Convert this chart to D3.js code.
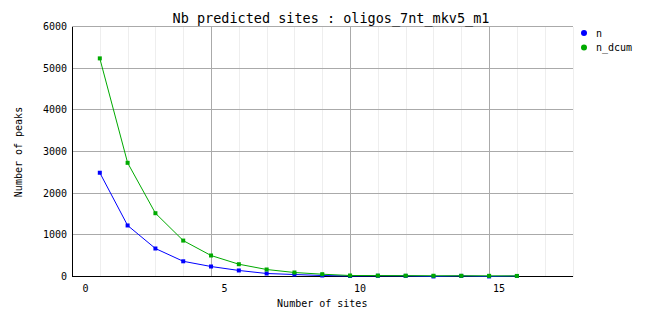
<!DOCTYPE html>
<html>
<head>
<meta charset="utf-8">
<script src="https://cdn.jsdelivr.net/npm/d3@7"></script>
<style>
  body { margin: 0; background: #fff; }
  svg { display: block; }
  text { font-family: "DejaVu Sans Mono", "Liberation Mono", monospace; fill: #000; }
</style>
</head>
<body>
<svg id="chart" width="662" height="328"></svg>
<script>
// ---- data ----
const title = "Nb predicted sites : oligos_7nt_mkv5_m1";
const xTitle = "Number of sites";
const yTitle = "Number of peaks";
const sites = [1, 2, 3, 4, 5, 6, 7, 8, 9, 10, 11, 12, 13, 14, 15, 16];
const seriesNames = ["n", "n_dcum"];
const nValues = [2490, 1225, 672, 365, 240, 145, 72, 48, 24, 12, 16, 14, 1, 14, 1, 12];
const nDcumValues = [5235, 2728, 1519, 862, 504, 295, 168, 96, 55, 24, 22, 20, 18, 17, 16, 14];
const xTickLabels = [0, 5, 10, 15];
const yTickValues = [0, 1000, 2000, 3000, 4000, 5000, 6000];
const seriesColors = ["#0000ff", "#00aa00"];

// ---- layout ----
const W = 662, H = 328;
const plot = { left: 72, right: 572.5, top: 26.5, bottom: 276.5 };
const svg = d3.select("#chart");

const x = d3.scaleLinear().domain([0, 18]).range([plot.left, plot.right]);
const y = d3.scaleLinear().domain([0, 6000]).range([plot.bottom, plot.top]);

// minor vertical grid
const g = svg.append("g").attr("shape-rendering", "crispEdges");
g.selectAll(".vminor").data(d3.range(1, 19).filter(d => d % 5 !== 0)).join("line")
  .attr("x1", d => Math.round(x(d)) + 0.5).attr("x2", d => Math.round(x(d)) + 0.5)
  .attr("y1", plot.top).attr("y2", plot.bottom)
  .attr("stroke", "#eeeeee");
// horizontal grid
g.selectAll(".hgrid").data(yTickValues.filter(d => d > 0)).join("line")
  .attr("x1", plot.left).attr("x2", plot.right)
  .attr("y1", d => y(d)).attr("y2", d => y(d))
  .attr("stroke", "#aaaaaa");
// major vertical grid
g.selectAll(".vmajor").data([5, 10, 15]).join("line")
  .attr("x1", d => Math.round(x(d)) + 0.5).attr("x2", d => Math.round(x(d)) + 0.5)
  .attr("y1", plot.top).attr("y2", plot.bottom)
  .attr("stroke", "#aaaaaa");

// axes lines
g.append("line").attr("x1", plot.left + 0.5).attr("x2", plot.left + 0.5)
  .attr("y1", plot.top).attr("y2", plot.bottom + 0.5).attr("stroke", "#000");
g.append("line").attr("x1", plot.left).attr("x2", plot.right)
  .attr("y1", plot.bottom).attr("y2", plot.bottom).attr("stroke", "#000");

// y tick labels
svg.selectAll(".ylab").data(yTickValues).join("text")
  .attr("x", plot.left - 5).attr("y", d => y(d) + 3.5)
  .attr("text-anchor", "end").attr("font-size", 10)
  .text(d => d);

// x tick labels (offset as in reference)
svg.selectAll(".xlab").data(xTickLabels).join("text")
  .attr("x", d => x(d) + (String(d).length > 1 ? 10 : 13.5))
  .attr("y", plot.bottom + 15)
  .attr("text-anchor", "middle").attr("font-size", 10)
  .text(d => d);

// titles
svg.append("text").attr("x", 331).attr("y", 23)
  .attr("text-anchor", "middle").attr("font-size", 13.5).text(title);
svg.append("text").attr("x", (plot.left + plot.right) / 2).attr("y", 307)
  .attr("text-anchor", "middle").attr("font-size", 10).text(xTitle);
svg.append("text").attr("transform", "translate(22,152) rotate(-90)")
  .attr("text-anchor", "middle").attr("font-size", 10).text(yTitle);

// series
const allSeries = [nValues, nDcumValues];
const line = d3.line().x((d, i) => x(sites[i])).y(d => y(d));
allSeries.forEach((vals, si) => {
  svg.append("path").datum(vals)
    .attr("d", line).attr("fill", "none")
    .attr("stroke", seriesColors[si]).attr("stroke-width", 1);
  svg.append("g").selectAll("rect").data(vals).join("rect")
    .attr("x", (d, i) => x(sites[i]) - 2).attr("y", d => y(d) - 2)
    .attr("width", 4).attr("height", 4)
    .attr("fill", seriesColors[si]);
});

// legend
const leg = svg.append("g");
seriesNames.forEach((name, i) => {
  const ly = 33 + i * 14.5;
  leg.append("circle").attr("cx", 584).attr("cy", ly).attr("r", 3)
    .attr("fill", seriesColors[i]);
  leg.append("text").attr("x", 596).attr("y", ly + 3.5)
    .attr("font-size", 10).text(name);
});
</script>
</body>
</html>
